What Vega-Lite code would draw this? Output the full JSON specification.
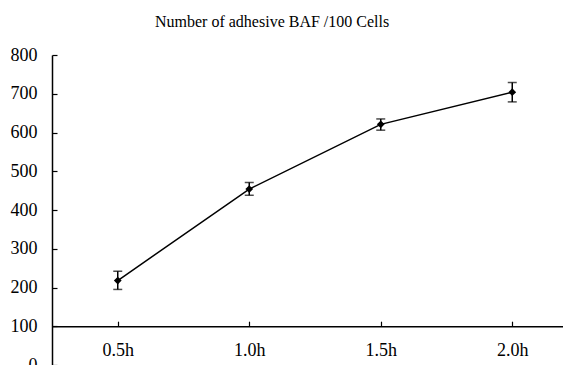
{
  "$schema": "https://vega.github.io/schema/vega-lite/v6.json",
  "width": 526,
  "height": 310,
  "autosize": {"type": "none"},
  "padding": {"left": 52, "top": 55, "right": 0, "bottom": 0},
  "background": "white",
  "config": {"view": {"stroke": null}, "font": "Liberation Serif"},
  "title": {"text": "Number of adhesive BAF /100 Cells", "font": "Liberation Serif", "fontSize": 16, "fontWeight": "normal", "color": "black", "anchor": "start", "frame": "group", "dx": 103, "offset": 16},
  "data": {"values": [
    {"time": "0.5h", "mean": 218, "lo": 195, "hi": 242},
    {"time": "1.0h", "mean": 454, "lo": 438, "hi": 471},
    {"time": "1.5h", "mean": 621, "lo": 606, "hi": 635},
    {"time": "2.0h", "mean": 704, "lo": 679, "hi": 729}
  ]},
  "resolve": {"axis": {"x": "independent", "y": "independent"}},
  "layer": [
    {"mark": {"type": "rule", "color": "black", "strokeWidth": 1.5},
     "encoding": {
       "x": {"field": "time", "type": "ordinal", "sort": null, "scale": {"type": "point", "padding": 0.5},
         "axis": {"title": null, "orient": "bottom", "labelAngle": 0, "offset": -38.8, "domainColor": "black", "domainWidth": 1.5, "ticks": false, "labelFontSize": 18, "labelColor": "black", "labelFont": "Liberation Serif", "labelPadding": 15}},
       "y": {"field": "lo", "type": "quantitative", "scale": {"domain": [0, 800], "nice": false},
        "axis": {"title": null, "orient": "left", "values": [0, 100, 200, 300, 400, 500, 600, 700, 800], "labelOverlap": false, "grid": false, "domainColor": "black", "domainWidth": 1.5, "ticks": false, "labelFontSize": 18, "labelColor": "black", "labelFont": "Liberation Serif", "labelPadding": 15}},
       "y2": {"field": "hi"}}},
    {"mark": {"type": "tick", "color": "black", "size": 9, "thickness": 1.5},
     "encoding": {
       "x": {"field": "time", "type": "ordinal", "sort": null, "scale": {"type": "point", "padding": 0.5},
         "axis": {"title": null, "orient": "top", "offset": -271.2, "domain": false, "labels": false, "tickColor": "black", "tickWidth": 1.2, "tickSize": 5}},
       "y": {"field": "lo", "type": "quantitative",
         "axis": {"title": null, "orient": "right", "offset": -526, "values": [0, 100, 200, 300, 400, 500, 600, 700, 800], "domain": false, "labels": false, "grid": false, "tickColor": "black", "tickWidth": 1.2, "tickSize": 5}}}},
    {"mark": {"type": "tick", "color": "black", "size": 9, "thickness": 1.5},
     "encoding": {"x": {"field": "time", "type": "ordinal", "sort": null, "axis": null}, "y": {"field": "hi", "type": "quantitative", "axis": null}}},
    {"mark": {"type": "line", "color": "black", "strokeWidth": 1.5},
     "encoding": {"x": {"field": "time", "type": "ordinal", "sort": null, "axis": null}, "y": {"field": "mean", "type": "quantitative", "axis": null}}},
    {"mark": {"type": "point", "shape": "diamond", "filled": true, "color": "black", "opacity": 1, "size": 60},
     "encoding": {"x": {"field": "time", "type": "ordinal", "sort": null, "axis": null}, "y": {"field": "mean", "type": "quantitative", "axis": null}}}
  ]
}
